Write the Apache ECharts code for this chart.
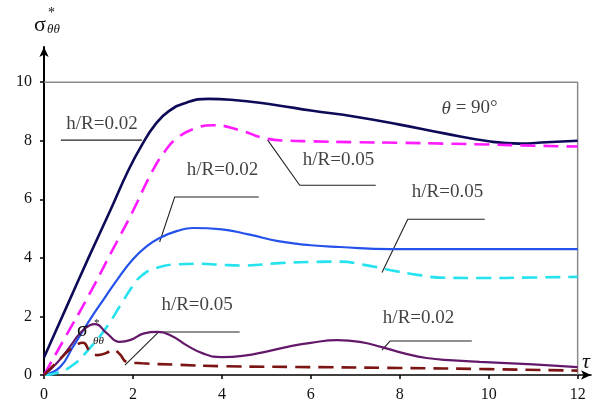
<!DOCTYPE html>
<html>
<head>
<meta charset="utf-8">
<script src="https://cdn.jsdelivr.net/npm/echarts@6/dist/echarts.min.js"></script>
<style>
html, body { margin: 0; padding: 0; background: #fff; }
#chart { width: 595px; height: 407px; }
</style>
</head>
<body>
<div id="chart"></div>
<script>
const tauTicks = [0, 2, 4, 6, 8, 10, 12];
const sigmaTicks = [0, 2, 4, 6, 8, 10];
const frameTau = 12;
const frameSigma = 10;

// [tau, sigma*]
const outer002 = [[0,0.6],[0.5,2.3],[1,4.0],[1.5,5.65],[1.9,7.0],[2.2,7.85],[2.5,8.55],[2.8,9.0],[3.2,9.3],[3.7,9.43],[4.2,9.4],[5.2,9.22],[6,9.03],[7,8.82],[8,8.55],[9,8.25],[10,7.98],[10.7,7.9],[11.3,7.95],[12,8.0]];
const outer005 = [[0,0],[0.5,1.35],[1,2.7],[1.5,4.15],[2,5.6],[2.4,6.85],[2.7,7.6],[3,8.1],[3.4,8.42],[3.8,8.53],[4.4,8.36],[5,8.07],[5.5,8.0],[6,7.98],[7,7.95],[8,7.93],[9,7.9],[10,7.87],[11,7.83],[12,7.8]];
const middle002 = [[0,0],[0.36,0.27],[0.65,0.96],[1.03,1.88],[1.33,2.56],[1.64,3.24],[2,3.95],[2.3,4.38],[2.6,4.68],[3,4.92],[3.35,5.02],[4,4.97],[4.6,4.8],[5.3,4.56],[6,4.43],[6.65,4.37],[7.8,4.3],[9,4.3],[12,4.3]];
const middle005 = [[0,0],[0.3,0.08],[0.65,0.34],[1.03,0.92],[1.41,1.64],[1.75,2.46],[2.0,3.05],[2.2,3.4],[2.5,3.64],[3,3.78],[3.5,3.8],[4,3.76],[4.5,3.74],[5.3,3.82],[6,3.86],[6.65,3.87],[7.2,3.76],[7.8,3.58],[8.4,3.42],[9,3.32],[10,3.31],[11,3.33],[12,3.35]];
const inner002 = [[0,0],[0.29,0.41],[0.58,0.96],[0.81,1.43],[1.03,1.7],[1.15,1.74],[1.41,1.43],[1.7,1.13],[1.95,1.2],[2.25,1.42],[2.54,1.47],[2.85,1.35],[3.2,1.02],[3.6,0.72],[4,0.61],[4.5,0.66],[5,0.8],[5.5,0.97],[6,1.1],[6.6,1.19],[7.1,1.13],[7.6,0.95],[8.1,0.74],[8.6,0.58],[9.2,0.5],[9.8,0.45],[11,0.36],[12,0.27]];
const inner005 = [[0,0],[0.36,0.55],[0.63,0.92],[0.88,1.1],[1.03,0.82],[1.2,0.68],[1.4,0.75],[1.55,0.86],[1.7,0.72],[1.86,0.45],[2.2,0.4],[3,0.35],[4,0.3],[6,0.27],[8,0.24],[10,0.2],[12,0.15]];

// callouts: text, where the text starts, and the leader polyline
const calloutText = ['h/R=0.02', 'h/R=0.05', 'h/R=0.02', 'h/R=0.05', 'h/R=0.05', 'h/R=0.02'];
const calloutAt = [[0.5,8.57],[5.82,7.34],[3.21,7.0],[8.27,6.25],[2.64,2.39],[7.62,1.95]];
const leaders = [
  [[0.38,8.02],[2.2,8.02]],
  [[5.03,8.02],[5.75,6.48],[7.46,6.48]],
  [[2.6,4.54],[2.94,6.08],[4.83,6.08]],
  [[7.6,3.5],[8.18,5.32],[9.91,5.32]],
  [[1.82,0.34],[2.58,1.47],[4.4,1.47]],
  [[7.6,0.85],[7.78,1.16],[9.62,1.16]]
];
const angleAt = [8.94, 9.1];

const serif = 'Liberation Serif';
const chart = echarts.init(document.getElementById('chart'));

function curve(data, color, width, dash) {
  return {
    type: 'line', data: data, smooth: 0.5, showSymbol: false, z: 3,
    lineStyle: { color: color, width: width, type: dash || 'solid' }
  };
}

const series = [
  curve(outer002, '#0d0b58', 2.6),
  curve(outer005, '#ff1aff', 2.6, [15, 8]),
  curve(middle002, '#2452ea', 2.2),
  curve(middle005, '#25e2ee', 2.6, [15, 8]),
  curve(inner002, '#641869', 2.2),
  curve(inner005, '#7c1414', 2.6, [15, 8]),
  {
    type: 'line', data: [[0, frameSigma], [frameTau, frameSigma], [frameTau, 0]],
    showSymbol: false, z: 1, lineStyle: { color: '#8a8a8a', width: 1.5 }
  }
];
leaders.forEach(function (pts) {
  series.push({
    type: 'line', data: pts, showSymbol: false, z: 2,
    lineStyle: { color: '#222', width: 1.1 }
  });
});
series.push({
  type: 'scatter', symbolSize: 0, z: 4,
  label: {
    show: true, position: 'right', distance: 0,
    color: '#111', fontFamily: serif, fontSize: 19,
    rich: { it: { fontFamily: serif, fontStyle: 'italic', fontSize: 19, color: '#111' } }
  },
  data: calloutAt.map(function (p, i) {
    return { value: p, label: { formatter: calloutText[i] } };
  }).concat([{ value: angleAt, label: { formatter: '{it|θ} = 90°' } }])
});

const option = {
  animation: false,
  grid: { left: 44, right: 4, top: 47, bottom: 32 },
  xAxis: {
    type: 'value', min: 0, max: 12.3, interval: 2,
    axisLine: { lineStyle: { color: '#000', width: 1.6 }, symbol: ['none', 'arrow'], symbolSize: [7, 10] },
    axisTick: { show: true, length: 4, customValues: tauTicks, lineStyle: { color: '#000', width: 1.5 } },
    axisLabel: { customValues: tauTicks, margin: 12, color: '#111', fontFamily: serif, fontSize: 16 },
    splitLine: { show: false }
  },
  yAxis: {
    type: 'value', min: 0, max: 11.2, interval: 2,
    axisLine: { show: true, lineStyle: { color: '#000', width: 2 }, symbol: ['none', 'arrow'], symbolSize: [7, 10] },
    axisTick: { show: true, length: 4, customValues: sigmaTicks, lineStyle: { color: '#000', width: 1.5 } },
    axisLabel: { customValues: sigmaTicks, margin: 12, color: '#111', fontFamily: serif, fontSize: 16 },
    splitLine: { show: false }
  },
  graphic: [
    { type: 'text', x: 34, y: 25, style: { text: 'σ', font: '22px "Liberation Serif"', fill: '#111', verticalAlign: 'middle' } },
    { type: 'text', x: 48, y: 13, style: { text: '*', font: '14px "Liberation Serif"', fill: '#111', verticalAlign: 'middle' } },
    { type: 'text', x: 47, y: 30, style: { text: 'θθ', font: 'italic 13px "Liberation Serif"', fill: '#111', verticalAlign: 'middle' } },
    { type: 'text', x: 77, y: 331, z: 10, style: { text: 'σ', font: '20px "Liberation Serif"', fill: '#111', verticalAlign: 'middle' } },
    { type: 'text', x: 94, y: 323, z: 10, style: { text: '*', font: '11px "Liberation Serif"', fill: '#111', verticalAlign: 'middle' } },
    { type: 'text', x: 93, y: 341, z: 10, style: { text: 'θθ', font: 'italic 11px "Liberation Serif"', fill: '#111', verticalAlign: 'middle' } },
    { type: 'text', x: 582, y: 362, style: { text: 'τ', font: 'italic 22px "Liberation Serif"', fill: '#111', verticalAlign: 'middle' } }
  ],
  series: series
};

chart.setOption(option);
</script>
</body>
</html>
